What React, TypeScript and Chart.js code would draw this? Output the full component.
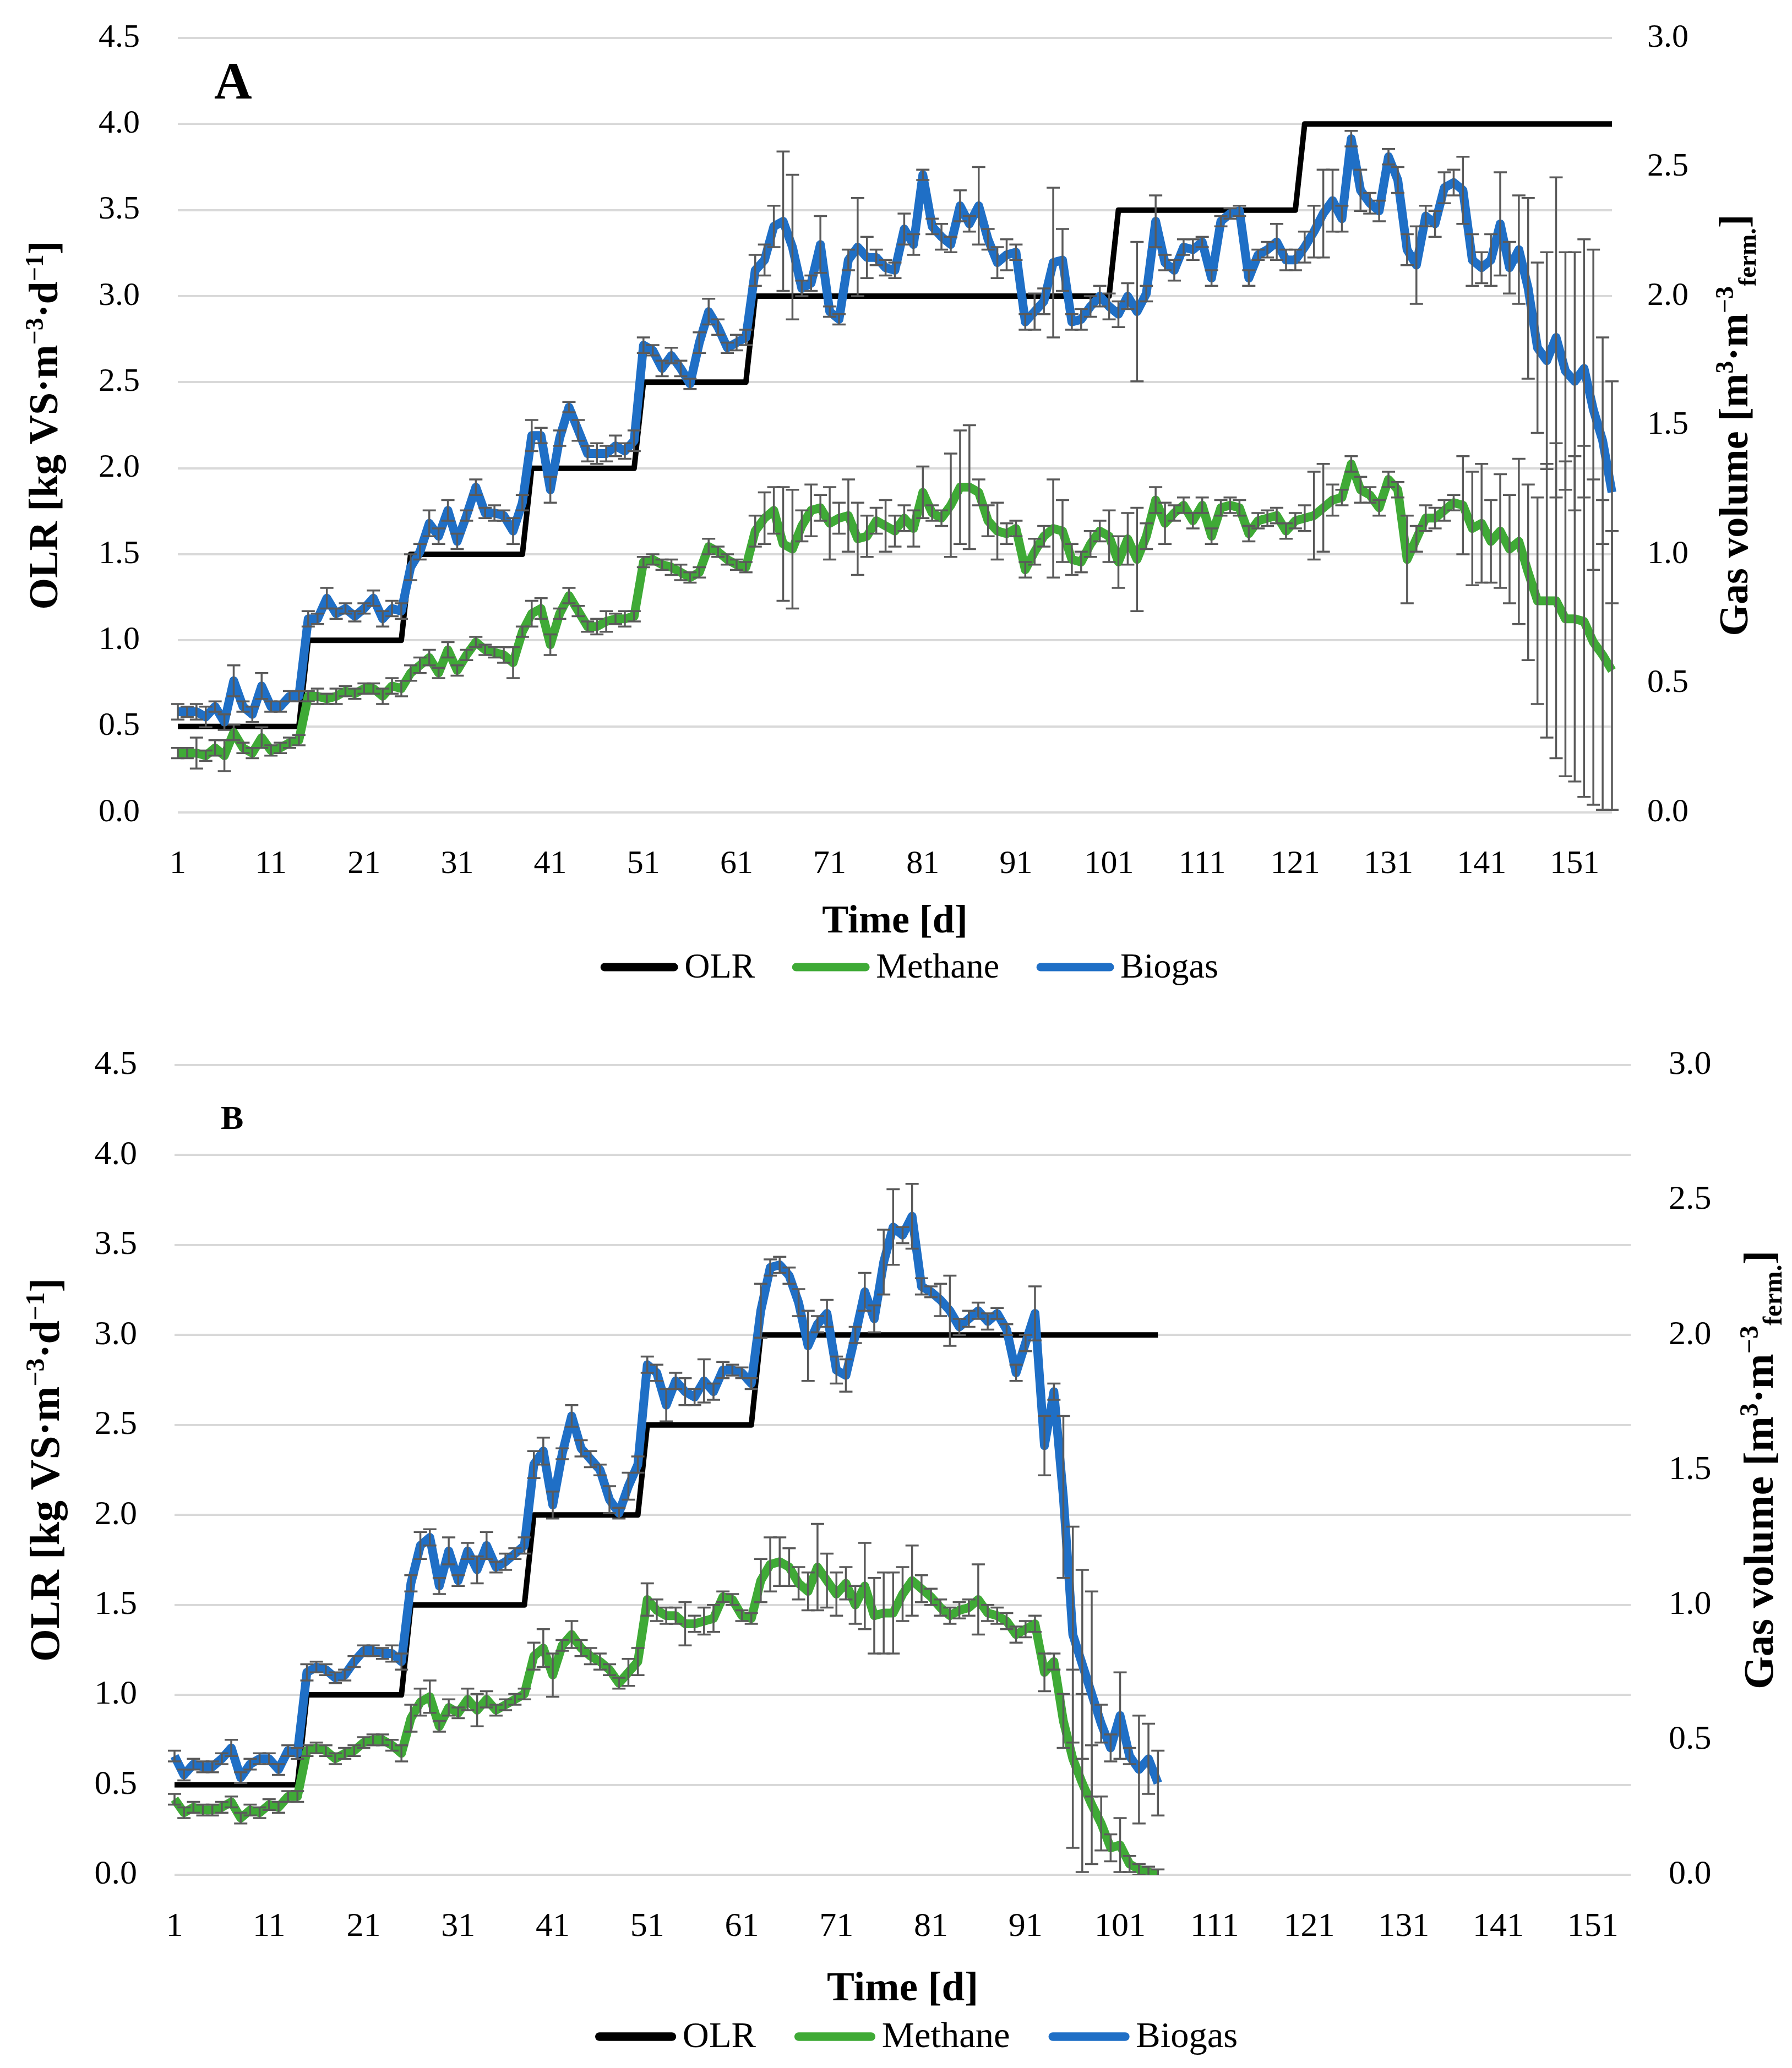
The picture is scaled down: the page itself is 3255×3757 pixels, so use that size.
import React, { useEffect, useRef } from 'react';
import { Chart, registerables } from 'chart.js';

Chart.register(...registerables);

// ---------------- DATA ----------------
const days: string[] = Array.from({ length: 155 }, (_, i) => String(i + 1));
const xTickLabels = ['1', '11', '21', '31', '41', '51', '61', '71', '81', '91', '101', '111', '121', '131', '141', '151'];
const seriesLabels = ['OLR', 'Methane', 'Biogas'];
const leftTitle = [
  { t: 'OLR [kg VS·m', k: 'n' }, { t: '−3', k: 'sup' }, { t: '·d', k: 'n' }, { t: '−1', k: 'sup' }, { t: ']', k: 'n' },
];
const rightTitle = [
  { t: 'Gas volume [m', k: 'n' }, { t: '3', k: 'sup' }, { t: '·m', k: 'n' }, { t: '−3', k: 'sup' }, { t: 'ferm.', k: 'sub' }, { t: ']', k: 'n' },
];
const xTitle = 'Time [d]';

// Panel A (reactor A) - OLR [kg VS m-3 d-1]
const olrA = [
  0.5, 0.5, 0.5, 0.5, 0.5, 0.5, 0.5, 0.5, 0.5, 0.5, 0.5, 0.5, 0.5, 0.5,
  1, 1, 1, 1, 1, 1, 1, 1, 1, 1, 1,
  1.5, 1.5, 1.5, 1.5, 1.5, 1.5, 1.5, 1.5, 1.5, 1.5, 1.5, 1.5, 1.5,
  2, 2, 2, 2, 2, 2, 2, 2, 2, 2, 2, 2,
  2.5, 2.5, 2.5, 2.5, 2.5, 2.5, 2.5, 2.5, 2.5, 2.5, 2.5, 2.5,
  3, 3, 3, 3, 3, 3, 3, 3, 3, 3, 3, 3, 3, 3, 3, 3, 3, 3, 3, 3,
  3, 3, 3, 3, 3, 3, 3, 3, 3, 3, 3, 3, 3, 3, 3, 3, 3, 3, 3,
  3.5, 3.5, 3.5, 3.5, 3.5, 3.5, 3.5, 3.5, 3.5, 3.5, 3.5, 3.5, 3.5, 3.5, 3.5, 3.5, 3.5, 3.5, 3.5, 3.5,
  4, 4, 4, 4, 4, 4, 4, 4, 4, 4, 4, 4, 4, 4, 4, 4, 4, 4, 4, 4,
  4, 4, 4, 4, 4, 4, 4, 4, 4, 4, 4, 4, 4, 4,
];
const methaneA = [
  0.23, 0.23, 0.23, 0.22, 0.25, 0.22, 0.31, 0.25, 0.23, 0.29,
  0.24, 0.25, 0.27, 0.28, 0.45, 0.45, 0.44, 0.45, 0.47, 0.46,
  0.48, 0.48, 0.45, 0.49, 0.48, 0.54, 0.57, 0.60, 0.54, 0.63,
  0.55, 0.61, 0.66, 0.63, 0.62, 0.61, 0.58, 0.70, 0.77, 0.79,
  0.65, 0.77, 0.84, 0.78, 0.72, 0.72, 0.74, 0.75, 0.75, 0.76,
  0.97, 0.98, 0.96, 0.95, 0.93, 0.91, 0.93, 1.03, 1.01, 0.98,
  0.96, 0.95, 1.09, 1.14, 1.17, 1.04, 1.02, 1.11, 1.17, 1.18,
  1.12, 1.14, 1.15, 1.06, 1.07, 1.13, 1.11, 1.09, 1.14, 1.10,
  1.24, 1.16, 1.14, 1.19, 1.26, 1.26, 1.24, 1.13, 1.09, 1.08,
  1.10, 0.94, 1.01, 1.07, 1.10, 1.09, 0.98, 0.97, 1.04, 1.09,
  1.07, 0.97, 1.06, 0.98, 1.07, 1.21, 1.12, 1.16, 1.19, 1.13,
  1.19, 1.07, 1.18, 1.19, 1.18, 1.08, 1.13, 1.14, 1.15, 1.09,
  1.13, 1.14, 1.15, 1.18, 1.21, 1.22, 1.35, 1.25, 1.23, 1.18,
  1.29, 1.25, 0.98, 1.06, 1.14, 1.14, 1.17, 1.20, 1.19, 1.10,
  1.12, 1.05, 1.09, 1.02, 1.05, 0.93, 0.82, 0.82, 0.82, 0.75,
  0.75, 0.74, 0.66, 0.61, 0.55,
];
const methaneErrA = [
  0.02, 0.02, 0.06, 0.02, 0.03, 0.06, 0.03, 0.02, 0.02, 0.04, 0.02, 0.02, 0.02, 0.02,
  0.02, 0.03, 0.02, 0.03, 0.02, 0.02, 0.02, 0.02, 0.03, 0.03, 0.03,
  0.03, 0.03, 0.03, 0.02, 0.03, 0.02, 0.02, 0.02, 0.02, 0.02, 0.03, 0.06, 0.02,
  0.05, 0.04, 0.04, 0.02, 0.03, 0.02, 0.02, 0.03, 0.04, 0.02, 0.03, 0.02,
  0.02, 0.02, 0.02, 0.03, 0.03, 0.02, 0.02, 0.03, 0.02, 0.02, 0.02, 0.02,
  0.06, 0.10, 0.09, 0.22, 0.23, 0.06, 0.10, 0.05, 0.14, 0.06, 0.14, 0.14, 0.08,
  0.05, 0.10, 0.06, 0.05, 0.07, 0.10, 0.03, 0.03, 0.20, 0.22, 0.24, 0.05, 0.06, 0.11, 0.04,
  0.03, 0.03, 0.05, 0.04, 0.19, 0.12, 0.06, 0.04, 0.05, 0.04, 0.10, 0.10, 0.10, 0.20, 0.05,
  0.05, 0.08, 0.03, 0.03, 0.03, 0.03, 0.03, 0.03, 0.03, 0.03, 0.03, 0.03, 0.03, 0.03, 0.03,
  0.03, 0.05, 0.17, 0.17, 0.06, 0.03, 0.03, 0.05, 0.03, 0.03, 0.03, 0.03, 0.17, 0.05, 0.05,
  0.04, 0.04, 0.03, 0.19, 0.22, 0.23, 0.16, 0.22, 0.21, 0.32,
  0.34, 0.40, 0.53, 0.61, 0.61, 0.63, 0.68, 0.63, 0.60, 0.54,
];
const biogasA = [
  0.39, 0.39, 0.39, 0.37, 0.41, 0.35, 0.51, 0.41, 0.38, 0.49,
  0.41, 0.41, 0.45, 0.45, 0.75, 0.75, 0.83, 0.77, 0.79, 0.76,
  0.79, 0.83, 0.75, 0.79, 0.78, 0.95, 1.01, 1.12, 1.07, 1.17,
  1.05, 1.15, 1.26, 1.16, 1.16, 1.15, 1.09, 1.20, 1.46, 1.46,
  1.25, 1.45, 1.57, 1.48, 1.39, 1.39, 1.39, 1.42, 1.40, 1.44,
  1.81, 1.79, 1.72, 1.77, 1.72, 1.66, 1.82, 1.94, 1.88, 1.80,
  1.82, 1.84, 2.10, 2.14, 2.27, 2.29, 2.19, 2.03, 2.05, 2.20,
  1.94, 1.91, 2.14, 2.19, 2.15, 2.15, 2.11, 2.10, 2.26, 2.20,
  2.47, 2.27, 2.23, 2.20, 2.35, 2.28, 2.35, 2.22, 2.13, 2.16,
  2.17, 1.90, 1.94, 1.98, 2.13, 2.14, 1.90, 1.91, 1.96, 2.00,
  1.96, 1.93, 2.00, 1.94, 2.01, 2.29, 2.13, 2.10, 2.19, 2.18,
  2.21, 2.07, 2.29, 2.32, 2.33, 2.07, 2.16, 2.18, 2.21, 2.14,
  2.14, 2.19, 2.25, 2.32, 2.37, 2.30, 2.61, 2.41, 2.36, 2.33,
  2.54, 2.45, 2.18, 2.12, 2.31, 2.28, 2.42, 2.44, 2.41, 2.14,
  2.11, 2.14, 2.28, 2.11, 2.18, 2.03, 1.80, 1.75, 1.84, 1.71,
  1.67, 1.72, 1.56, 1.44, 1.24,
];
const biogasErrA = [
  0.03, 0.02, 0.03, 0.04, 0.02, 0.03, 0.06, 0.02, 0.03, 0.05, 0.02, 0.02, 0.02, 0.02,
  0.03, 0.02, 0.04, 0.02, 0.02, 0.02, 0.02, 0.03, 0.03, 0.03, 0.03,
  0.05, 0.03, 0.05, 0.03, 0.04, 0.03, 0.02, 0.03, 0.02, 0.03, 0.02, 0.05, 0.03,
  0.06, 0.03, 0.05, 0.03, 0.02, 0.04, 0.03, 0.04, 0.03, 0.04, 0.03, 0.04,
  0.03, 0.02, 0.03, 0.03, 0.03, 0.02, 0.04, 0.05, 0.03, 0.02, 0.03, 0.03,
  0.06, 0.06, 0.08, 0.27, 0.28, 0.03, 0.03, 0.11, 0.02, 0.02,
  0.04, 0.19, 0.08, 0.03, 0.03, 0.03, 0.06, 0.04, 0.02, 0.03,
  0.05, 0.03, 0.06, 0.03, 0.15, 0.04, 0.06, 0.06, 0.03, 0.03,
  0.07, 0.05, 0.29, 0.12, 0.03, 0.04, 0.04, 0.04,
  0.05, 0.05, 0.05, 0.27, 0.03, 0.10, 0.03, 0.04, 0.03, 0.04,
  0.02, 0.03, 0.02, 0.02, 0.02, 0.03, 0.02, 0.03, 0.07, 0.04,
  0.04, 0.06, 0.10, 0.17, 0.12, 0.05, 0.03, 0.08, 0.04, 0.04,
  0.03, 0.05, 0.06, 0.15, 0.04, 0.05, 0.06, 0.05, 0.13, 0.10,
  0.06, 0.10, 0.20, 0.10, 0.21, 0.35, 0.33, 0.42, 0.62, 0.46,
  0.50, 0.50, 0.62, 0.40, 0.43,
];

// Panel B (reactor B)
const olrB = [
  0.5, 0.5, 0.5, 0.5, 0.5, 0.5, 0.5, 0.5, 0.5, 0.5, 0.5, 0.5, 0.5, 0.5,
  1, 1, 1, 1, 1, 1, 1, 1, 1, 1, 1,
  1.5, 1.5, 1.5, 1.5, 1.5, 1.5, 1.5, 1.5, 1.5, 1.5, 1.5, 1.5, 1.5,
  2, 2, 2, 2, 2, 2, 2, 2, 2, 2, 2, 2,
  2.5, 2.5, 2.5, 2.5, 2.5, 2.5, 2.5, 2.5, 2.5, 2.5, 2.5, 2.5,
  3, 3, 3, 3, 3, 3, 3, 3, 3, 3, 3, 3, 3, 3, 3, 3, 3, 3, 3, 3,
  3, 3, 3, 3, 3, 3, 3, 3, 3, 3, 3, 3, 3, 3, 3, 3, 3, 3, 3, 3,
  3, 3, 3,
];
const methaneB = [
  0.28, 0.23, 0.25, 0.24, 0.24, 0.25, 0.27, 0.21, 0.24, 0.23,
  0.26, 0.25, 0.29, 0.29, 0.46, 0.47, 0.46, 0.43, 0.45, 0.46,
  0.49, 0.50, 0.50, 0.48, 0.45, 0.58, 0.64, 0.66, 0.55, 0.62,
  0.60, 0.65, 0.61, 0.65, 0.61, 0.63, 0.65, 0.67, 0.81, 0.84,
  0.74, 0.85, 0.89, 0.84, 0.81, 0.79, 0.76, 0.71, 0.75, 0.79,
  1.02, 0.98, 0.96, 0.96, 0.93, 0.93, 0.94, 0.95, 1.03, 1.02,
  0.96, 0.95, 1.09, 1.15, 1.16, 1.14, 1.08, 1.05, 1.14, 1.09,
  1.04, 1.08, 1.00, 1.07, 0.96, 0.97, 0.97, 1.04, 1.09, 1.06,
  1.03, 0.99, 0.96, 0.98, 0.99, 1.02, 0.97, 0.96, 0.94, 0.89,
  0.91, 0.93, 0.75, 0.79, 0.57, 0.43, 0.34, 0.26, 0.19, 0.10,
  0.11, 0.04, 0.02, 0.01, 0.00,
];
const methaneErrB = [
  0.02, 0.02, 0.02, 0.02, 0.02, 0.02, 0.02, 0.02, 0.02, 0.02, 0.02, 0.02, 0.02, 0.02,
  0.02, 0.02, 0.02, 0.02, 0.02, 0.02, 0.02, 0.02, 0.02, 0.02, 0.03,
  0.05, 0.05, 0.06, 0.02, 0.03, 0.02, 0.04, 0.06, 0.03, 0.02, 0.02, 0.02, 0.02,
  0.05, 0.07, 0.08, 0.02, 0.05, 0.03, 0.03, 0.03, 0.02, 0.02, 0.05, 0.05,
  0.06, 0.04, 0.03, 0.03, 0.08, 0.03, 0.05, 0.05, 0.02, 0.02, 0.02, 0.02,
  0.08, 0.10, 0.09, 0.07, 0.06, 0.07, 0.16, 0.10, 0.08, 0.06, 0.07, 0.16, 0.14,
  0.15, 0.15, 0.10, 0.13, 0.05, 0.03, 0.03, 0.03, 0.03, 0.03, 0.13, 0.03, 0.03, 0.03, 0.03,
  0.03, 0.03, 0.07, 0.03, 0.10, 0.33, 0.33, 0.22, 0.10, 0.05, 0.10, 0.03, 0.02, 0.02, 0.02,
];
const biogasB = [
  0.44, 0.37, 0.41, 0.40, 0.40, 0.43, 0.47, 0.36, 0.41, 0.43,
  0.43, 0.39, 0.46, 0.45, 0.75, 0.77, 0.76, 0.73, 0.74, 0.79,
  0.83, 0.83, 0.82, 0.82, 0.79, 1.08, 1.22, 1.25, 1.07, 1.20,
  1.09, 1.20, 1.13, 1.22, 1.14, 1.16, 1.19, 1.22, 1.52, 1.57,
  1.37, 1.56, 1.70, 1.58, 1.54, 1.50, 1.39, 1.34, 1.44, 1.52,
  1.89, 1.86, 1.74, 1.83, 1.79, 1.77, 1.83, 1.79, 1.87, 1.87,
  1.86, 1.82, 2.09, 2.25, 2.26, 2.22, 2.12, 1.96, 2.04, 2.08,
  1.87, 1.85, 2.00, 2.16, 2.06, 2.27, 2.40, 2.37, 2.44, 2.18,
  2.16, 2.13, 2.09, 2.03, 2.06, 2.09, 2.05, 2.08, 2.02, 1.86,
  1.97, 2.08, 1.59, 1.79, 1.40, 0.89, 0.78, 0.67, 0.56, 0.47,
  0.59, 0.44, 0.39, 0.43, 0.34,
];
const biogasErrB = [
  0.02, 0.02, 0.02, 0.02, 0.02, 0.02, 0.03, 0.02, 0.02, 0.02, 0.02, 0.02, 0.02, 0.02,
  0.03, 0.02, 0.02, 0.02, 0.02, 0.02, 0.02, 0.02, 0.02, 0.03, 0.03,
  0.03, 0.05, 0.03, 0.03, 0.05, 0.02, 0.03, 0.05, 0.05, 0.02, 0.03, 0.02, 0.03,
  0.05, 0.05, 0.05, 0.02, 0.04, 0.03, 0.03, 0.02, 0.05, 0.02, 0.05, 0.03,
  0.03, 0.03, 0.06, 0.03, 0.05, 0.03, 0.08, 0.03, 0.03, 0.02, 0.02, 0.02,
  0.10, 0.03, 0.03, 0.03, 0.05, 0.13, 0.03, 0.05, 0.05, 0.06, 0.03, 0.07, 0.05,
  0.12, 0.14, 0.03, 0.12, 0.03, 0.02, 0.06, 0.13, 0.03, 0.03, 0.03, 0.03, 0.02, 0.02, 0.03,
  0.03, 0.10, 0.11, 0.03, 0.30, 0.40, 0.35, 0.38, 0.07, 0.05, 0.16, 0.03, 0.20, 0.13, 0.12,
];

// ---------------- STYLE ----------------
const FAMILY = '"Liberation Serif", "Times New Roman", serif';
const BLACK = '#000000';
const GREEN = '#3FAA36';
const BLUE = '#1F6FC6';
const ERR = '#5A5A5A';
const GRID = '#D9D9D9';
const PAGE_W = 3255;
const PAGE_H = 3757;

type Seg = { t: string; k: string };

function drawRich(ctx: CanvasRenderingContext2D, segs: Seg[], cx: number, cy: number, size: number) {
  const small = Math.round(size * 0.62);
  const fontFor = (k: string) => `bold ${k === 'n' ? size : small}px ${FAMILY}`;
  const widths = segs.map((s) => {
    ctx.font = fontFor(s.k);
    return ctx.measureText(s.t).width;
  });
  const total = widths.reduce((a, b) => a + b, 0);
  ctx.save();
  ctx.translate(cx, cy);
  ctx.rotate(-Math.PI / 2);
  ctx.fillStyle = '#000';
  ctx.textBaseline = 'alphabetic';
  ctx.textAlign = 'left';
  let x = -total / 2;
  const base = size * 0.33;
  segs.forEach((s, i) => {
    ctx.font = fontFor(s.k);
    const dy = s.k === 'sup' ? -size * 0.36 : s.k === 'sub' ? size * 0.2 : 0;
    ctx.fillText(s.t, x, base + dy);
    x += widths[i];
  });
  ctx.restore();
}

const errorBarPlugin = {
  id: 'errorBars',
  afterDatasetDraw(chart: any, args: any) {
    const ds = chart.data.datasets[args.index];
    const errs: number[] | undefined = ds.errors;
    if (!errs) return;
    const meta = args.meta;
    const yScale = chart.scales[ds.yAxisID];
    const a = chart.chartArea;
    const ctx: CanvasRenderingContext2D = chart.ctx;
    ctx.save();
    ctx.beginPath();
    ctx.rect(a.left - 40, a.top - 2, a.right - a.left + 80, a.bottom - a.top + 2);
    ctx.clip();
    ctx.strokeStyle = ERR;
    ctx.lineWidth = 3.5;
    const cap = 12;
    for (let i = 0; i < ds.data.length; i++) {
      const v = ds.data[i];
      const e = errs[i];
      if (v == null || !e) continue;
      const pt = meta.data[i];
      if (!pt) continue;
      const x = pt.x;
      const yT = yScale.getPixelForValue(v + e);
      const yB = yScale.getPixelForValue(v - e);
      ctx.beginPath();
      ctx.moveTo(x, yT);
      ctx.lineTo(x, yB);
      ctx.moveTo(x - cap, yT);
      ctx.lineTo(x + cap, yT);
      ctx.moveTo(x - cap, yB);
      ctx.lineTo(x + cap, yB);
      ctx.stroke();
    }
    ctx.restore();
  },
};

const decorPlugin = {
  id: 'decor',
  afterDraw(chart: any, _args: any, opts: any) {
    const ctx: CanvasRenderingContext2D = chart.ctx;
    const a = chart.chartArea;
    const s = opts.scale;
    ctx.save();
    // panel letter
    ctx.fillStyle = '#000';
    ctx.font = `bold ${opts.letterSize}px ${FAMILY}`;
    ctx.textAlign = 'left';
    ctx.textBaseline = 'alphabetic';
    ctx.fillText(opts.letter, opts.letterX, opts.letterY);
    // axis titles
    drawRich(ctx, leftTitle, opts.leftTitleX, (a.top + a.bottom) / 2, 74 * s);
    drawRich(ctx, rightTitle, opts.rightTitleX, (a.top + a.bottom) / 2, 74 * s);
    ctx.font = `bold ${72 * s}px ${FAMILY}`;
    ctx.textAlign = 'center';
    ctx.textBaseline = 'middle';
    ctx.fillText(xTitle, (a.left + a.right) / 2, opts.xTitleY);
    // legend
    const fs = 64 * s;
    ctx.font = `${fs}px ${FAMILY}`;
    const lineLen = 140 * s;
    const gap = 12 * s;
    const spacing = 68 * s;
    const items = chart.data.datasets.map((d: any) => ({ label: d.label, color: d.borderColor }));
    const widths = items.map((it: any) => ctx.measureText(it.label).width);
    let total = 0;
    items.forEach((_: any, i: number) => { total += lineLen + gap + widths[i]; });
    total += spacing * (items.length - 1);
    let x = opts.legendCX - total / 2;
    const y = opts.legendY;
    items.forEach((it: any, i: number) => {
      ctx.strokeStyle = it.color;
      ctx.lineWidth = 15 * s;
      ctx.lineCap = 'round';
      ctx.beginPath();
      ctx.moveTo(x + 7, y);
      ctx.lineTo(x + lineLen - 7, y);
      ctx.stroke();
      x += lineLen + gap;
      ctx.fillStyle = '#000';
      ctx.textAlign = 'left';
      ctx.textBaseline = 'middle';
      ctx.fillText(it.label, x, y + 2);
      x += widths[i] + spacing;
    });
    ctx.restore();
  },
};

type PanelCfg = {
  canvasTop: number; // page y of canvas top
  height: number;
  area: { left: number; right: number; top: number; bottom: number }; // canvas coords
  olr: number[]; methane: number[]; methaneErr: number[]; biogas: number[]; biogasErr: number[];
  decor: any;
  leftPad: number; rightPad: number; xPad: number; tickSize: number;
};

function makeChart(canvas: HTMLCanvasElement, p: PanelCfg) {
  const W = PAGE_W;
  const H = p.height;
  const tickFont = { family: FAMILY, size: p.tickSize };
  return new Chart(canvas, {
    type: 'line',
    data: {
      labels: days,
      datasets: [
        { label: seriesLabels[0], data: p.olr, yAxisID: 'y', borderColor: BLACK, backgroundColor: BLACK, borderWidth: 10, pointRadius: 0, order: 3 } as any,
        { label: seriesLabels[1], data: p.methane, yAxisID: 'y1', borderColor: GREEN, backgroundColor: GREEN, borderWidth: 16, pointRadius: 0, order: 2, errors: p.methaneErr } as any,
        { label: seriesLabels[2], data: p.biogas, yAxisID: 'y1', borderColor: BLUE, backgroundColor: BLUE, borderWidth: 16, pointRadius: 0, order: 1, errors: p.biogasErr } as any,
      ],
    },
    options: {
      animation: false,
      responsive: false,
      devicePixelRatio: 1,
      layout: { padding: { top: p.area.top, left: 0, right: 0, bottom: 0 } },
      elements: { line: { tension: 0, borderJoinStyle: 'round', borderCapStyle: 'butt' } },
      plugins: {
        legend: { display: false },
        tooltip: { enabled: false },
        decor: p.decor,
      } as any,
      scales: {
        x: {
          type: 'category',
          offset: false,
          grid: { display: false, drawTicks: false },
          border: { display: false },
          ticks: {
            autoSkip: false,
            maxRotation: 0,
            minRotation: 0,
            padding: p.xPad,
            color: '#000',
            font: tickFont,
            callback: (_v: any, idx: number) => (xTickLabels.includes(days[idx]) ? days[idx] : ''),
          },
          afterFit: (sc: any) => { sc.height = H - p.area.bottom; },
        },
        y: {
          position: 'left',
          min: 0,
          max: 4.5,
          grid: { color: GRID, lineWidth: 4, drawTicks: false },
          border: { display: false },
          ticks: { stepSize: 0.5, padding: p.leftPad, color: '#000', font: tickFont, callback: (v: any) => Number(v).toFixed(1) },
          afterFit: (sc: any) => { sc.width = p.area.left; },
        },
        y1: {
          position: 'right',
          min: 0,
          max: 3,
          grid: { display: false, drawTicks: false },
          border: { display: false },
          ticks: { stepSize: 0.5, padding: p.rightPad, color: '#000', font: tickFont, callback: (v: any) => Number(v).toFixed(1) },
          afterFit: (sc: any) => { sc.width = W - p.area.right; },
        },
      } as any,
    } as any,
    plugins: [errorBarPlugin, decorPlugin] as any,
  });
}

// Canvas A spans page y -60 .. 1830 (canvas y = page y + 60)
const panelA: PanelCfg = {
  canvasTop: -60,
  height: 1890,
  area: { left: 323, right: 2928, top: 129, bottom: 1536 },
  olr: olrA, methane: methaneA, methaneErr: methaneErrA, biogas: biogasA, biogasErr: biogasErrA,
  leftPad: 69, rightPad: 64, xPad: 58, tickSize: 60,
  decor: { letter: 'A', letterSize: 95, letterX: 389, letterY: 239, leftTitleX: 80, rightTitleX: 3150, xTitleY: 1735, legendCX: 1652, legendY: 1817, scale: 1 },
};
// Canvas B spans page y 1790 .. 3757 (canvas y = page y - 1790)
const panelB: PanelCfg = {
  canvasTop: 1790,
  height: PAGE_H - 1790,
  area: { left: 317, right: 2962, top: 145, bottom: 1616 },
  olr: olrB, methane: methaneB, methaneErr: methaneErrB, biogas: biogasB, biogasErr: biogasErrB,
  leftPad: 68, rightPad: 69, xPad: 58, tickSize: 62,
  decor: { letter: 'B', letterSize: 62, letterX: 401, letterY: 261, leftTitleX: 82, rightTitleX: 3195, xTitleY: 1825, legendCX: 1665, legendY: 1910, scale: 1.04 },
};

function Panel({ cfg }: { cfg: PanelCfg }) {
  const ref = useRef<HTMLCanvasElement | null>(null);
  useEffect(() => {
    if (!ref.current) return;
    const c = makeChart(ref.current, cfg);
    return () => c.destroy();
  }, [cfg]);
  return (
    <canvas
      ref={ref}
      width={PAGE_W}
      height={cfg.height}
      style={{ position: 'absolute', left: 0, top: cfg.canvasTop, width: PAGE_W, height: cfg.height, display: 'block' }}
    />
  );
}

export default function App() {
  return (
    <div style={{ position: 'absolute', left: 0, top: 0, width: PAGE_W, height: PAGE_H, background: '#fff', overflow: 'hidden' }}>
      <Panel cfg={panelA} />
      <Panel cfg={panelB} />
    </div>
  );
}
